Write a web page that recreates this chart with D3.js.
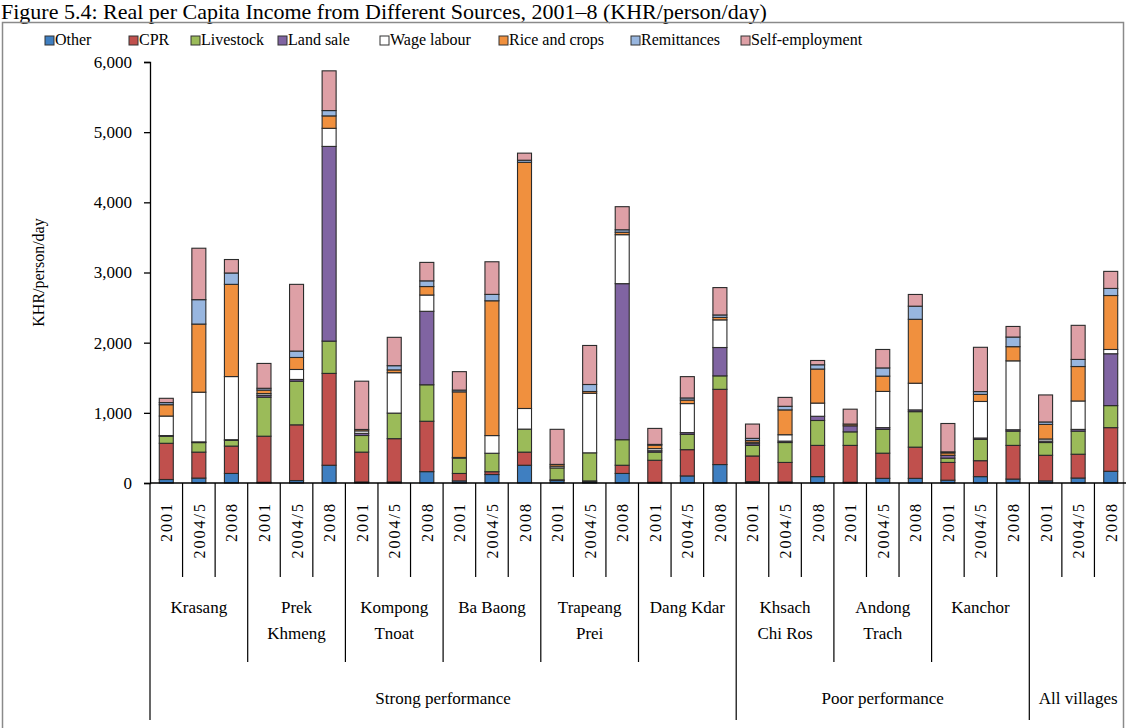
<!DOCTYPE html>
<html><head><meta charset="utf-8">
<script src="https://cdn.jsdelivr.net/npm/d3@7"></script>
<style>
html,body{margin:0;padding:0;background:#fff;}
svg text{font-family:"Liberation Serif","Times New Roman",serif;fill:#000;}
</style></head>
<body>
<svg id="chart" width="1126" height="728"></svg>
<script>
const villages = ["Krasang","Prek Khmeng","Kompong Tnoat","Ba Baong","Trapeang Prei","Dang Kdar","Khsach Chi Ros","Andong Trach","Kanchor","All villages"];
const villageLabels = [["Krasang"],["Prek","Khmeng"],["Kompong","Tnoat"],["Ba Baong"],["Trapeang","Prei"],["Dang Kdar"],["Khsach","Chi Ros"],["Andong","Trach"],["Kanchor"],[]];
const years = ["2001","2004/5","2008"];
const groups = [{name:"Strong performance", n:6},{name:"Poor performance", n:3},{name:"All villages", n:1}];
const seriesNames = ["Other","CPR","Livestock","Land sale","Wage labour","Rice and crops","Remittances","Self-employment"];
const seriesColors = ["#3f7fc1","#c0504d","#9bbb59","#8064a2","#ffffff","#f0903e","#98b6df","#dea0a6"];
const yTicks = [0,1000,2000,3000,4000,5000,6000];

const other     = [50,70,136, 10,35,253, 15,15,162, 30,121,253, 35,20,136, 10,101,263, 20,15,91, 10,66,66, 40,91,56, 30,71,167];
const cpr       = [516,370,390, 657,794,1309, 425,617,718, 106,40,187, 10,10,117, 314,374,1072, 365,278,445, 526,359,445, 253,227,480, 365,339,622];
const livestock = [100,136,81, 556,622,460, 237,364,520, 218,263,328, 170,400,364, 116,218,192, 151,284,355, 193,339,506, 61,303,203, 182,329,314];
const landSale  = [10,10,10, 26,25,2775, 31,0,1047, 0,0,0, 0,0,2224, 20,25,404, 25,20,60, 86,25,25, 40,20,20, 20,25,739];
const wage      = [278,708,900, 25,142,258, 35,576,232, 10,252,294, 25,849,698, 30,414,394, 20,91,188, 0,516,380, 0,521,982, 30,405,61];
const rice      = [162,971,1314, 50,171,177, 20,40,121, 935,1921,3508, 25,25,35, 50,50,35, 25,354,485, 25,218,911, 35,101,202, 208,491,769];
const remit     = [30,348,162, 26,91,76, 0,60,81, 25,91,30, 0,100,35, 10,30,35, 30,51,61, 0,117,187, 15,40,137, 35,101,101];
const selfEmp   = [61,733,192, 354,951,566, 688,404,263, 263,465,101, 500,556,329, 228,304,390, 204,127,61, 212,263,167, 404,631,151, 385,486,243];
const seriesValues = [other,cpr,livestock,landSale,wage,rice,remit,selfEmp];

const svg = d3.select("#chart");
const X0 = 150, X1 = 1127, Y0 = 483, YTOP = 62;

// title
svg.append("text").attr("x",1).attr("y",19).attr("font-size",22)
  .text("Figure 5.4: Real per Capita Income from Different Sources, 2001–8 (KHR/person/day)");
// frame
svg.append("rect").attr("x",2.5).attr("y",22.5).attr("width",1121).attr("height",720)
  .attr("fill","none").attr("stroke","#8a8a8a").attr("stroke-width",1.5);

// data table
const table = [];
villages.forEach((v,vi)=>years.forEach((yr,yi)=>{
  const i = vi*3+yi; const row = {id:i};
  seriesNames.forEach((s,si)=>row[s]=seriesValues[si][i]);
  table.push(row);
}));
const stack = d3.stack().keys(seriesNames)(table);

const x = d3.scaleBand().domain(d3.range(table.length)).range([X0,X1]).paddingInner(0.57).paddingOuter(0.285);
const y = d3.scaleLinear().domain([0,6000]).range([Y0,YTOP]);
const color = d3.scaleOrdinal().domain(seriesNames).range(seriesColors);

// bars
svg.append("g").selectAll("g").data(stack).join("g")
  .attr("fill",d=>color(d.key))
  .selectAll("rect").data(d=>d).join("rect")
  .attr("x",d=>x(d.data.id)).attr("width",x.bandwidth())
  .attr("y",d=>y(d[1])).attr("height",d=>Math.max(0,y(d[0])-y(d[1])))
  .attr("stroke","#2b2b2b").attr("stroke-width",1.1);

// y axis
const yAxis = svg.append("g").attr("transform",`translate(${X0},0)`)
  .call(d3.axisLeft(y).tickValues(yTicks).tickFormat(d3.format(",")).tickSize(6).tickPadding(12));
yAxis.select(".domain").attr("stroke","#000").attr("stroke-width",1.3);
yAxis.selectAll(".tick line").attr("stroke","#000").attr("stroke-width",1.3);
yAxis.selectAll("text").attr("font-size",17).attr("font-family","Liberation Serif, serif");

svg.append("text").attr("transform",`translate(44,${(Y0+YTOP)/2}) rotate(-90)`)
  .attr("text-anchor","middle").attr("font-size",16).text("KHR/person/day");

// hierarchical x axis
const step = x.step();
const bx = i => X0 + i*step;
const ax = svg.append("g").attr("stroke","#000").attr("stroke-width",1.2);
ax.append("line").attr("x1",X0).attr("x2",X1).attr("y1",Y0).attr("y2",Y0).attr("stroke-width",1.4);
let gb = [0]; let acc = 0; groups.forEach(g=>{acc+=g.n*3; gb.push(acc);});
const villageBounds = d3.range(villages.length+1).map(v=>v*3);
for (let i=0;i<=table.length;i++){
  let yEnd = 577;
  if (villageBounds.includes(i)) yEnd = 662;
  if (gb.includes(i)) yEnd = 720;
  ax.append("line").attr("x1",bx(i)).attr("x2",bx(i)).attr("y1",Y0).attr("y2",yEnd);
}
// year labels
svg.append("g").selectAll("text").data(table).join("text")
  .attr("transform",d=>`translate(${x(d.id)+x.bandwidth()/2+6},502) rotate(-90)`)
  .attr("text-anchor","end").attr("font-size",16).attr("letter-spacing","2px")
  .text(d=>years[d.id%3]);
// village labels
villageLabels.forEach((lines,vi)=>{
  const cx = (bx(vi*3)+bx(vi*3+3))/2;
  lines.forEach((ln,li)=>{
    svg.append("text").attr("x",cx).attr("y",613+li*26).attr("text-anchor","middle")
      .attr("font-size",17).text(ln);
  });
});
// group labels
groups.forEach((g,gi)=>{
  const cx = (bx(gb[gi])+bx(gb[gi+1]))/2;
  svg.append("text").attr("x",cx).attr("y",704).attr("text-anchor","middle").attr("font-size",17).text(g.name);
});

// legend
const legendX = [45,129,191,278,380,499,631,741];
const lg = svg.append("g").selectAll("g").data(seriesNames).join("g")
  .attr("transform",(d,i)=>`translate(${legendX[i]},45)`);
lg.append("rect").attr("x",0).attr("y",-9).attr("width",9).attr("height",9)
  .attr("fill",d=>color(d)).attr("stroke","#333").attr("stroke-width",1);
lg.append("text").attr("x",10).attr("y",0).attr("font-size",16).text(d=>d);
</script>
</body></html>
